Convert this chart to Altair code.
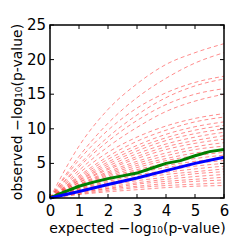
import altair as alt
import pandas as pd

xs = [0, 1, 2, 3, 4, 5, 6]
red_curves = [
    [0, 7.5, 12.8, 16.5, 19.3, 21.0, 22.3],
    [0, 6.0, 10.8, 14.5, 17.3, 19.5, 21.0],
    [0, 5.5, 9.8, 13.0, 15.2, 16.7, 17.6],
    [0, 4.8, 8.8, 12.0, 14.5, 16.2, 17.2],
    [0, 4.5, 8.2, 11.2, 13.5, 15.0, 15.8],
    [0, 4.0, 7.4, 10.2, 12.5, 14.0, 15.0],
    [0, 3.6, 6.6, 8.8, 10.4, 11.5, 12.2],
    [0, 3.2, 6.0, 8.2, 9.8, 11.0, 11.7],
    [0, 3.0, 5.6, 7.6, 9.2, 10.3, 11.0],
    [0, 2.8, 5.2, 7.2, 8.7, 9.8, 10.5],
    [0, 2.6, 4.9, 6.8, 8.3, 9.3, 10.0],
    [0, 2.5, 4.6, 6.4, 7.8, 8.8, 9.5],
    [0, 2.3, 4.3, 6.0, 7.4, 8.3, 9.0],
    [0, 2.2, 4.1, 5.7, 7.0, 7.9, 8.5],
    [0, 2.0, 3.8, 5.3, 6.5, 7.4, 8.0],
    [0, 1.9, 3.6, 5.0, 6.1, 7.0, 7.5],
    [0, 1.8, 3.4, 4.7, 5.7, 6.5, 7.0],
    [0, 1.7, 3.2, 4.4, 5.4, 6.1, 6.6],
    [0, 1.6, 3.0, 4.1, 5.0, 5.7, 6.2],
    [0, 1.5, 2.8, 3.9, 4.7, 5.3, 5.8],
    [0, 1.4, 2.6, 3.6, 4.4, 5.0, 5.4],
    [0, 1.3, 2.4, 3.3, 4.0, 4.6, 5.0],
    [0, 1.2, 2.2, 3.0, 3.7, 4.2, 4.6],
    [0, 1.1, 2.0, 2.8, 3.4, 3.8, 4.2],
    [0, 1.0, 1.8, 2.5, 3.0, 3.5, 3.8],
    [0, 0.9, 1.6, 2.2, 2.7, 3.1, 3.4],
    [0, 0.8, 1.4, 2.0, 2.4, 2.7, 3.0],
    [0, 0.7, 1.3, 1.7, 2.1, 2.4, 2.6],
    [0, 0.6, 1.1, 1.5, 1.8, 2.0, 2.2],
    [0, 0.5, 0.9, 1.2, 1.5, 1.7, 1.8],
]
green_x = [0, 0.5, 1, 1.5, 2, 2.5, 3, 3.5, 4, 4.5, 5, 5.5, 6]
green_y = [0, 0.9, 1.7, 2.3, 2.8, 3.2, 3.6, 4.3, 5.0, 5.4, 6.1, 6.7, 7.0]
blue_x = [0, 1, 2, 3, 4, 5, 6]
blue_y = [0, 0.95, 1.95, 2.9, 3.95, 5.0, 5.9]
x_ticks = [0, 1, 2, 3, 4, 5, 6]
y_ticks = [0, 5, 10, 15, 20, 25]
y_tick_labels = ["0", "5", "10", "15", "20", "25"]

W, H = 174, 173
FONT = "DejaVu Sans"

red_rows = []
for i, c in enumerate(red_curves):
    for x, y in zip(xs, c):
        red_rows.append({"curve": i, "x": x, "y": y})
red_df = pd.DataFrame(red_rows)
green_df = pd.DataFrame({"x": green_x, "y": green_y})
blue_df = pd.DataFrame({"x": blue_x, "y": blue_y})
xt_df = pd.DataFrame({"t": x_ticks})
yt_df = pd.DataFrame({"t": y_ticks, "lab": y_tick_labels})

xscale = alt.Scale(domain=[0, 6], nice=False, zero=False)
yscale = alt.Scale(domain=[0, 25], nice=False, zero=False)

xaxis = alt.Axis(values=x_ticks, ticks=False, domain=False, grid=False,
                 labelOverlap=False, labelFlush=False,
                 labelPadding=5, labelFontSize=15, labelFont=FONT, labelColor="black",
                 title="expected −log₁₀(p-value)", titleFont=FONT, titleFontSize=14,
                 titleFontWeight="normal", titleColor="black", titlePadding=3)
yaxis = alt.Axis(values=y_ticks, ticks=False, domain=False, grid=False, labels=False,
                 title="observed −log₁₀(p-value)", titleFont=FONT, titleFontSize=14,
                 titleFontWeight="normal", titleColor="black", titlePadding=26)


def X(f):
    return alt.X(f, scale=xscale, axis=xaxis)


def Y(f):
    return alt.Y(f, scale=yscale, axis=yaxis)


red = alt.Chart(red_df).mark_line(color="red", strokeWidth=1, opacity=0.45,
                                  strokeDash=[4, 3], interpolate="monotone").encode(
    x=X("x:Q"), y=Y("y:Q"), detail="curve:N")
green = alt.Chart(green_df).mark_line(color="#008000", strokeWidth=3).encode(
    x=X("x:Q"), y=Y("y:Q"))
blue = alt.Chart(blue_df).mark_line(color="#0000ff", strokeWidth=3).encode(
    x=X("x:Q"), y=Y("y:Q"))

tb = alt.Chart(xt_df).mark_rule(color="black", strokeWidth=1).encode(
    x=X("t:Q"), y=alt.value(H), y2=alt.value(H - 4))
tt = alt.Chart(xt_df).mark_rule(color="black", strokeWidth=1).encode(
    x=X("t:Q"), y=alt.value(0), y2=alt.value(4))
tl = alt.Chart(yt_df).mark_rule(color="black", strokeWidth=1).encode(
    y=Y("t:Q"), x=alt.value(0), x2=alt.value(4))
tr = alt.Chart(yt_df).mark_rule(color="black", strokeWidth=1).encode(
    y=Y("t:Q"), x=alt.value(W), x2=alt.value(W - 4))
ylabels = alt.Chart(yt_df).mark_text(
    align="right", baseline="middle", font=FONT, fontSize=15, color="black").encode(
    y=Y("t:Q"), x=alt.value(-4), text="lab:N")
frame = alt.Chart(pd.DataFrame({"k": [0]})).mark_rect(
    fill=None, fillOpacity=0, stroke="black", strokeWidth=1.5).encode(
    x=alt.value(0), x2=alt.value(W), y=alt.value(0), y2=alt.value(H))

chart = alt.layer(red, green, blue, tb, tt, tl, tr, ylabels, frame).properties(
    width=W, height=H,
    autosize=alt.AutoSizeParams(type="none"),
    padding={"left": 42, "top": 17, "right": 10, "bottom": 40},
).configure(background="white").configure_view(stroke=None)

chart.save("out.html", embed_options={"renderer": "svg", "actions": False})
